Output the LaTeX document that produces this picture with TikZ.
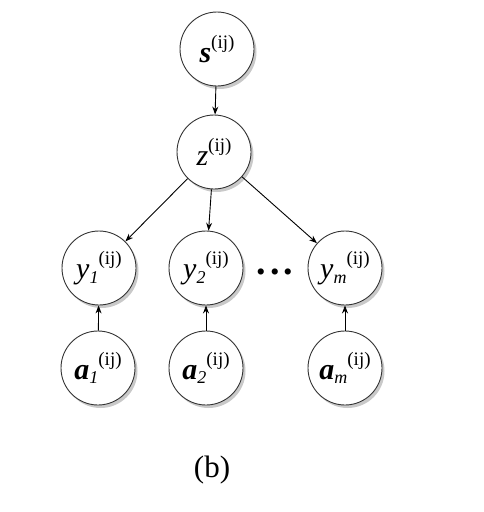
\documentclass[tikz,border=0pt]{standalone}
\usepackage{fontspec}
\setmainfont{Liberation Serif}
\usetikzlibrary{arrows.meta,shadows}
\newcommand\vsub[1]{\raisebox{-0.35ex}{\fontsize{18}{18}\selectfont\textit{#1}}}
\newcommand\vsup{\raisebox{1.0ex}{\fontsize{19}{19}\selectfont(ij)}}
\begin{document}
\begin{tikzpicture}[x=1pt,y=-1pt,
  var/.style={circle,draw=black!80,line width=0.9pt,fill=white,minimum size=74pt,inner sep=0pt,
    font=\fontsize{30}{30}\selectfont,
    drop shadow={shadow xshift=2.5pt,shadow yshift=-3pt,fill=black!30,opacity=0.7}},
  conn/.style={draw=black,line width=0.9pt,-{Stealth[length=8pt,width=6pt]}}]
\useasboundingbox (0,0) rectangle (484,512);
\node[var] (s) at (217,49) {\textbf{\textit{s}}\vsup};
\node[var] (z) at (214,152) {\textit{z}\vsup};
\node[var] (y1) at (99,268) {\textit{y}\vsub{1}\vsup};
\node[var] (y2) at (206,268) {\textit{y}\vsub{2}\vsup};
\node[var] (ym) at (345,268) {\textit{y}\vsub{m}\vsup};
\node[var] (a1) at (98,368) {\textbf{\textit{a}}\vsub{1}\vsup};
\node[var] (a2) at (206,368) {\textbf{\textit{a}}\vsub{2}\vsup};
\node[var] (am) at (345,368) {\textbf{\textit{a}}\vsub{m}\vsup};
\node[font=\fontsize{38}{38}\selectfont\bfseries] (dots) at (275,272) {.\hspace{4pt}.\hspace{4pt}.};
\node[font=\fontsize{31}{31}\selectfont] (lbl) at (212,470) {(b)};
\draw[conn] (s) -- (z);
\draw[conn] (z) -- (y1);
\draw[conn] (z) -- (y2);
\draw[conn] (z) -- (ym);
\draw[conn] (a1) -- (y1);
\draw[conn] (a2) -- (y2);
\draw[conn] (am) -- (ym);
\end{tikzpicture}
\end{document}
